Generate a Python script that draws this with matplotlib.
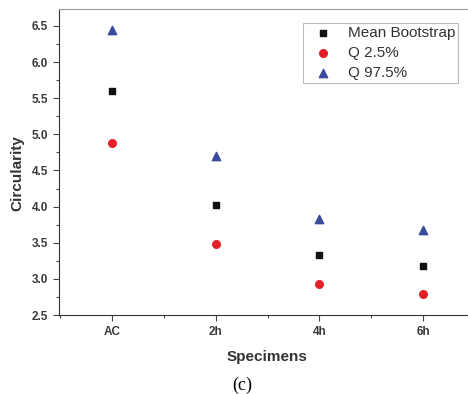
import matplotlib
matplotlib.use("Agg")
import matplotlib.pyplot as plt
from matplotlib.ticker import MultipleLocator

categories = ["AC", "2h", "4h", "6h"]
mean_bootstrap = [5.60, 4.02, 3.33, 3.18]
q_025 = [4.88, 3.48, 2.93, 2.79]
q_975 = [6.44, 4.70, 3.83, 3.67]

plt.rcParams['font.family'] = ['Liberation Sans', 'DejaVu Sans']

fig = plt.figure(figsize=(4.68, 3.94), dpi=100)
ax = fig.add_axes([59/468, (394-315)/394, (475-59)/468, (315-9)/394])

x = list(range(len(categories)))
ax.scatter(x, mean_bootstrap, marker='s', s=22, color='#111111', label='Mean Bootstrap', zorder=3)
ax.scatter(x, q_025, marker='o', s=30, color='#e32028', label='Q 2.5%', zorder=3)
ax.scatter(x, q_975, marker='^', s=36, color='#3b4a9c', label='Q 97.5%', zorder=3)

ax.set_xlim(-0.51, 3.5)
ax.set_ylim(2.5, 6.735)
ax.set_xticks(x)
ax.set_xticklabels(categories)
ax.xaxis.set_minor_locator(MultipleLocator(0.5))
ax.yaxis.set_major_locator(MultipleLocator(0.5))
ax.yaxis.set_minor_locator(MultipleLocator(0.25))
ax.set_yticklabels([f"{v:.1f}" for v in ax.get_yticks()])

for lbl in ax.get_xticklabels() + ax.get_yticklabels():
    lbl.set_fontweight('bold')
    lbl.set_fontsize(8.5)
    lbl.set_color('#3a3a3a')
ax.tick_params(which='major', direction='out', length=4, width=0.8, color='#444444', pad=4)
ax.tick_params(which='minor', direction='out', length=2.5, width=0.8, color='#444444')

ax.spines['right'].set_visible(False)
ax.spines['top'].set_color('#999999')
ax.spines['left'].set_color('#333333')
ax.spines['bottom'].set_color('#333333')

ax.set_xlabel('Specimens', fontsize=11, fontweight='bold', color='#333333')
ax.set_ylabel('Circularity', fontsize=11, fontweight='bold', color='#333333')
ax.xaxis.set_label_coords(267/468, 1 - 357/394, transform=fig.transFigure)
ax.xaxis.label.set_va('center')
ax.yaxis.set_label_coords(17/468, 1 - 173/394, transform=fig.transFigure)
ax.yaxis.label.set_va('center')

leg = ax.legend(loc='upper left', bbox_to_anchor=(303/468, 1-23/394), bbox_transform=fig.transFigure,
                fontsize=11, frameon=True, fancybox=False, edgecolor='#aaaaaa',
                handletextpad=0.5, borderpad=0.22, labelspacing=0.38, handlelength=2.2,
                borderaxespad=0)
for t in leg.get_texts():
    t.set_color('#333333')
leg.get_frame().set_linewidth(0.8)

fig.text(242/468, 1 - 385/394, '(c)', ha='center', va='center', fontsize=13,
         family=['Liberation Serif', 'DejaVu Serif'])

fig.savefig('out.png', dpi=100)
